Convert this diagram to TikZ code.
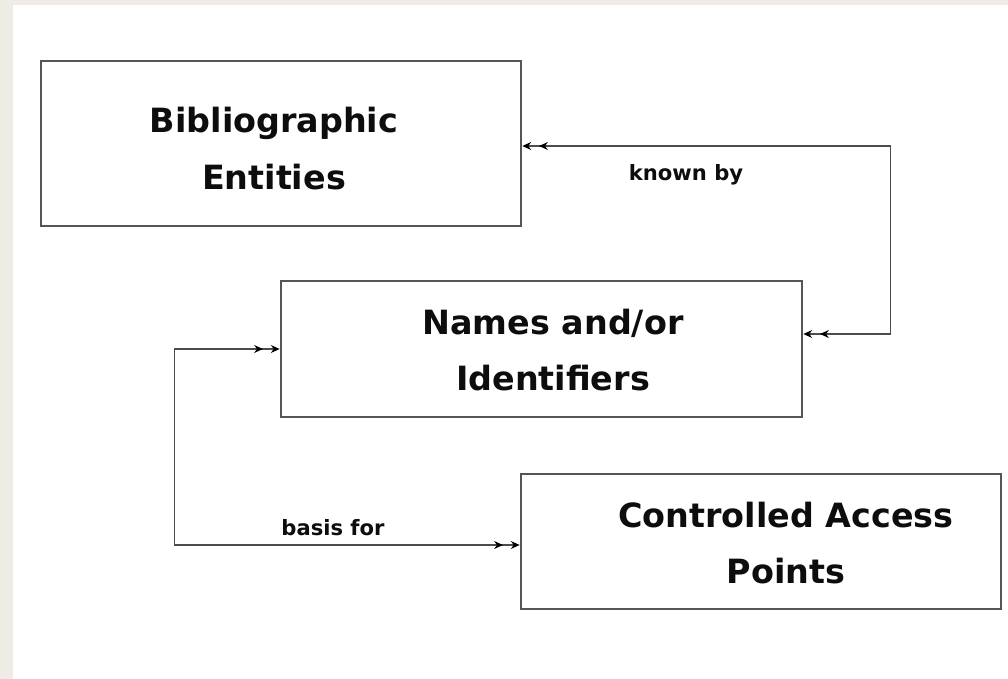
\documentclass[tikz,border=0pt]{standalone}
\usepackage{fontspec}
\setmainfont{DejaVu Sans}
\usetikzlibrary{arrows.meta}
\definecolor{pagebg}{RGB}{239,236,229}
\definecolor{boxline}{RGB}{85,85,85}
\tikzstyle{entity}=[draw=boxline, line width=1.6pt, inner sep=0pt]
\tikzstyle{entitytext}=[font=\fontsize{19}{32}\selectfont\bfseries, align=center, text=black!95]
\tikzstyle{linktext}=[font=\fontsize{12}{14}\selectfont\bfseries, text=black!95]
\tikzstyle{link}=[draw=black!70, line width=0.8pt,
  {Stealth[length=5pt,width=4.5pt,black]Stealth[length=5pt,width=4.5pt,sep=4.5pt,black]}-{Stealth[length=5pt,width=4.5pt,sep=4.5pt,black]Stealth[length=5pt,width=4.5pt,black]}]

\begin{document}
\begin{tikzpicture}[x=0.02cm, y=-0.02cm]
    \fill[pagebg] (0,0) rectangle (1008,679);
    \fill[white] (13,5) rectangle (1008,679);
    \useasboundingbox (0,0) rectangle (1008,679);

    \node[entity, minimum width=9.6cm, minimum height=3.3cm,
      label={[entitytext, xshift=-0.14cm, yshift=-0.1cm]center:Bibliographic\\Entities}] (biblio) at (281,143.5) {};
    \node[entity, minimum width=10.42cm, minimum height=2.72cm,
      label={[entitytext, xshift=0.23cm, yshift=-0.02cm]center:Names and/or\\Identifiers}] (names) at (541.5,349) {};
    \node[entity, minimum width=9.6cm, minimum height=2.7cm,
      label={[entitytext, xshift=0.5cm, yshift=-0.03cm]center:Controlled Access\\Points}] (access) at (761,541.5) {};

    \draw[link] ([yshift=0.3cm]names.east) -- ++(87,0) |- ([yshift=-0.05cm]biblio.east);
    \draw[link] (names.west) -- ++(-105,0) |- ([yshift=-0.07cm]access.west);

    \node[linktext] (knownby) at (686,175) {known by};
    \node[linktext] (basisfor) at (333,528) {basis for};
  \end{tikzpicture}
\end{document}
